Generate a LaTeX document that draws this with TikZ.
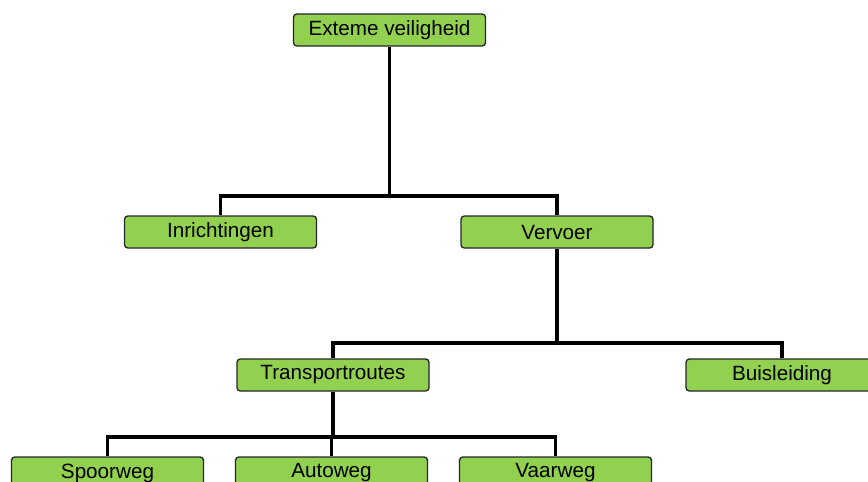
\documentclass[tikz,border=0pt]{standalone}
\usepackage{fontspec}
\setmainfont{Liberation Sans}
\usetikzlibrary{positioning,calc}
\definecolor{boxgreen}{RGB}{146,208,80}

\begin{document}
\begin{tikzpicture}[x=0.75pt,y=-0.75pt,
  box node/.style={rectangle,draw=black!85,fill=boxgreen,rounded corners=2.5pt,
    line width=1pt,minimum width=144pt,minimum height=24pt,inner sep=0pt,
    font=\fontsize{15.5}{18}\selectfont},
  tree line/.style={line width=2.3pt,black}]

  \useasboundingbox (0,0) rectangle (868,482);

  \node[box node] (top) at (389.5,30) {Exteme veiligheid};
  \node[box node] (inr) at (220.5,232) {Inrichtingen};
  \node[box node] (verv) at (557,232) {Vervoer};
  \node[box node] (trans) at (333,375) {Transportroutes};
  \node[box node] (buis) at (782,375) {Buisleiding};
  \node[box node] (spoor) at (107.5,473) {Spoorweg};
  \node[box node] (auto) at (331.5,473) {Autoweg};
  \node[box node] (vaar) at (555.5,473) {Vaarweg};

  % junction rows of the tree
  \coordinate (j1) at (389.5,196);
  \coordinate (j2) at (557,343);
  \coordinate (j3) at (333,437);

  \draw[tree line] (top) -- (top |- j1);
  \draw[tree line] (j1) -| (inr);
  \draw[tree line] (j1) -| (verv);
  \draw[tree line] (verv) -- (verv |- j2);
  \draw[tree line] (j2) -| (trans);
  \draw[tree line] (j2) -| (buis);
  \draw[tree line] (trans) -- (trans |- j3);
  \draw[tree line] (j3) -| (spoor);
  \draw[tree line] (j3) -| (auto);
  \draw[tree line] (j3) -| (vaar);
\end{tikzpicture}
\end{document}
